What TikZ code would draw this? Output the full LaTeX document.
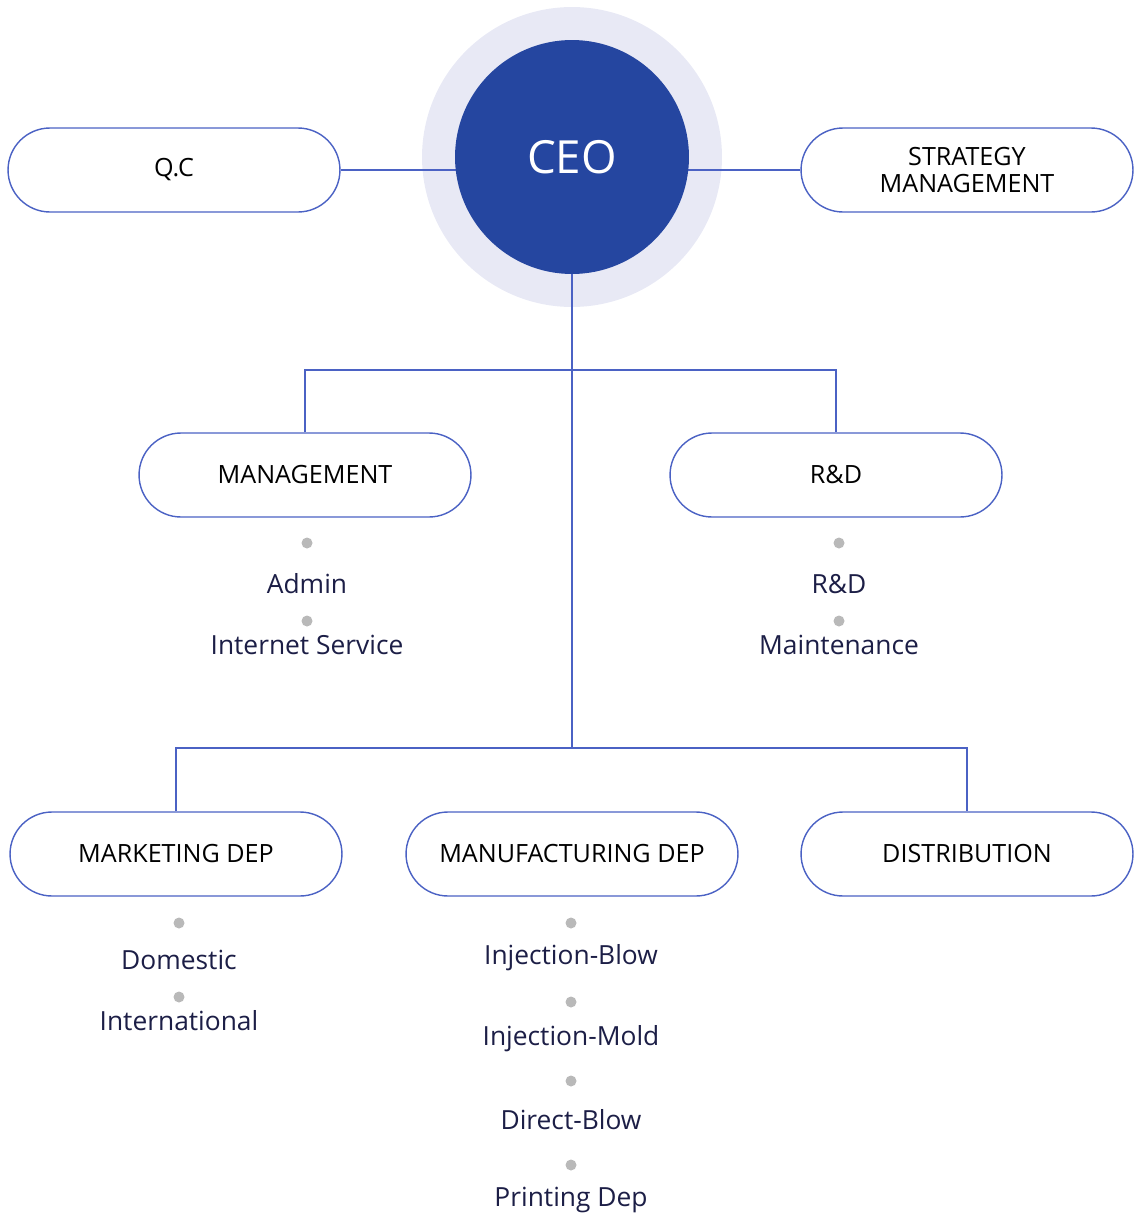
\documentclass[tikz,border=0pt]{standalone}
\usepackage{fontspec}
\setmainfont{Open Sans}
\usetikzlibrary{positioning,backgrounds}
\definecolor{orgblue}{RGB}{37,70,160}
\definecolor{orgline}{RGB}{75,98,196}
\definecolor{orghalo}{RGB}{232,233,245}
\definecolor{orgtext}{RGB}{28,30,70}
\definecolor{orgdot}{RGB}{185,185,185}

\begin{document}
\begin{tikzpicture}[x=0.02cm,y=-0.02cm,
  unit/.style={draw=orgline,line width=0.8pt,fill=white,rounded corners=0.84cm,
    minimum width=6.64cm,minimum height=1.68cm,align=center,
    font=\fontsize{14.3}{15.9}\selectfont},
  sub/.style={text=orgtext,font=\fontsize{15}{18}\selectfont},
  bullet/.style={circle,fill=orgdot,inner sep=0pt,minimum size=0.22cm},
  link/.style={draw=orgline,line width=0.8pt}]
  \useasboundingbox (0,0) rectangle (1135,1217);

  %%%%%%%%%%%%%%%%Top level%%%%%%%%%%%%%%
  \node[circle,fill=orgblue,minimum size=4.68cm,text=white,
    font=\fontsize{26}{30}\selectfont] (ceo) at (572,157) {CEO};
  \node[unit] (qc) at (174,170) {Q.C};
  \node[unit] (strat) at (967,170) {STRATEGY\\MANAGEMENT};

  %%%%%%%%%%%%%%%%Second level%%%%%%%%%%%%%%
  \node[unit] (mgmt) at (305,475) {MANAGEMENT};
  \node[unit] (rnd) at (836,475) {R\&D};

  \node[bullet] (mgmt dot1) at (307,543) {};
  \node[sub] (admin) at (307,584) {Admin};
  \node[bullet] (mgmt dot2) at (307,621) {};
  \node[sub] (internet) at (307,645) {Internet Service};

  \node[bullet] (rnd dot1) at (839,543) {};
  \node[sub] (rnd sub) at (839,584) {R\&D};
  \node[bullet] (rnd dot2) at (839,621) {};
  \node[sub] (maint) at (839,645) {Maintenance};

  %%%%%%%%%%%%%%%%Third level%%%%%%%%%%%%%%
  \node[unit] (mkt) at (176,854) {MARKETING DEP};
  \node[unit] (mfg) at (572,854) {MANUFACTURING DEP};
  \node[unit] (dist) at (967,854) {DISTRIBUTION};

  \node[bullet] (mkt dot1) at (179,923) {};
  \node[sub] (domestic) at (179,960) {Domestic};
  \node[bullet] (mkt dot2) at (179,997) {};
  \node[sub] (intl) at (179,1021) {International};

  \node[bullet] (mfg dot1) at (571,923) {};
  \node[sub] (inj blow) at (571,958) {Injection-Blow};
  \node[bullet] (mfg dot2) at (571,1002) {};
  \node[sub] (inj mold) at (571,1039) {Injection-Mold};
  \node[bullet] (mfg dot3) at (571,1081) {};
  \node[sub] (direct) at (571,1120) {Direct-Blow};
  \node[bullet] (mfg dot4) at (571,1165) {};
  \node[sub] (printing) at (571,1200) {Printing Dep};

  \coordinate (j1) at (572,370);
  \coordinate (j2) at (572,748);

  \begin{scope}[on background layer]
    \fill[orghalo] (ceo.center) circle[radius=3cm];
    \draw[link] (qc.east) -- (ceo.center |- qc.east);
    \draw[link] (strat.west) -- (ceo.center |- strat.west);
    \draw[link] (ceo.center) -- (j2);
  \end{scope}

  \draw[link] (mgmt.north) |- (j1) -| (rnd.north);
  \draw[link] (mkt.north) |- (j2) -| (dist.north);
\end{tikzpicture}
\end{document}
